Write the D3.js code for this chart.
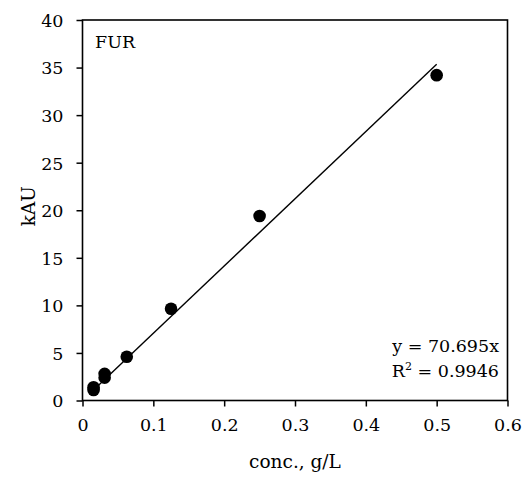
<!DOCTYPE html>
<html>
<head>
<meta charset="utf-8">
<script src="https://cdn.jsdelivr.net/npm/d3@7"></script>
<style>
  html, body { margin: 0; padding: 0; background: #fff; }
  svg { display: block; }
  text { font-family: "DejaVu Serif", "Liberation Serif", serif; fill: #000; }
</style>
</head>
<body>
<svg id="chart" width="524" height="479"></svg>
<script>
// Calibration data for FUR: concentration (g/L) vs detector response (kAU)
const conc = [0.015625, 0.015625, 0.03125, 0.03125, 0.0625, 0.125, 0.25, 0.5];
const kau = [1.4, 1.1, 2.8, 2.4, 4.6, 9.65, 19.4, 34.2];
const xTicks = [0, 0.1, 0.2, 0.3, 0.4, 0.5, 0.6];
const yTicks = [0, 5, 10, 15, 20, 25, 30, 35, 40];
const slope = 70.695;      // linear fit through origin
const rSquared = "0.9946";
const seriesName = "FUR";

const svg = d3.select("#chart");
const fs = 17.5;

const x = d3.scaleLinear().domain([0, 0.6]).range([82.5, 507.5]);
const y = d3.scaleLinear().domain([0, 40]).range([400.5, 20]);

// axes
const xAxis = d3.axisBottom(x).tickValues(xTicks).tickSize(6).tickSizeOuter(0)
  .tickPadding(12).tickFormat(d => d === 0 ? "0" : d3.format(".1f")(d));
const yAxis = d3.axisLeft(y).tickValues(yTicks).tickSize(6).tickSizeOuter(0)
  .tickPadding(13).tickFormat(d3.format("d"));

const gx = svg.append("g").attr("transform", `translate(0,${y(0)})`).call(xAxis);
const gy = svg.append("g").attr("transform", `translate(${x(0)},0)`).call(yAxis);
[gx, gy].forEach(g => {
  g.select(".domain").remove();
  g.selectAll("line").attr("stroke", "#000").attr("stroke-width", 1.5);
  g.selectAll("text").attr("font-size", fs).attr("font-family", "DejaVu Serif").attr("fill", "#000");
});
gy.selectAll("text").attr("dy", "0.36em");

// plot frame
svg.append("rect")
  .attr("x", x(0)).attr("y", y(40))
  .attr("width", x(0.6) - x(0)).attr("height", y(0) - y(40))
  .attr("fill", "none").attr("stroke", "#000").attr("stroke-width", 1.6);

// trend line across data range
const [xmin, xmax] = d3.extent(conc);
svg.append("line")
  .attr("x1", x(xmin)).attr("y1", y(slope * xmin))
  .attr("x2", x(xmax)).attr("y2", y(slope * xmax))
  .attr("stroke", "#000").attr("stroke-width", 1.4);

// data points
svg.append("g").selectAll("circle")
  .data(conc.map((c, i) => [c, kau[i]]))
  .join("circle")
  .attr("cx", d => x(d[0])).attr("cy", d => y(d[1]))
  .attr("r", 6.3).attr("fill", "#000");

// series label
svg.append("text").attr("x", 95).attr("y", 48).attr("font-size", fs).text(seriesName);

// fit equation
svg.append("text").attr("x", 499).attr("y", 352).attr("text-anchor", "end")
  .attr("font-size", fs).text(`y = ${slope}x`);
const r2 = svg.append("text").attr("x", 499).attr("y", 377).attr("text-anchor", "end")
  .attr("font-size", fs);
r2.append("tspan").text("R");
r2.append("tspan").attr("font-size", 11).attr("dy", -7).text("2");
r2.append("tspan").attr("dy", 7).text(` = ${rSquared}`);

// axis titles
svg.append("text").attr("x", (x(0) + x(0.6)) / 2).attr("y", 468)
  .attr("text-anchor", "middle").attr("font-size", 18.5).text("conc., g/L");
svg.append("text")
  .attr("transform", `translate(35,${(y(0) + y(40)) / 2 - 4}) rotate(-90)`)
  .attr("text-anchor", "middle").attr("font-size", 18.5).text("kAU");
</script>
</body>
</html>
